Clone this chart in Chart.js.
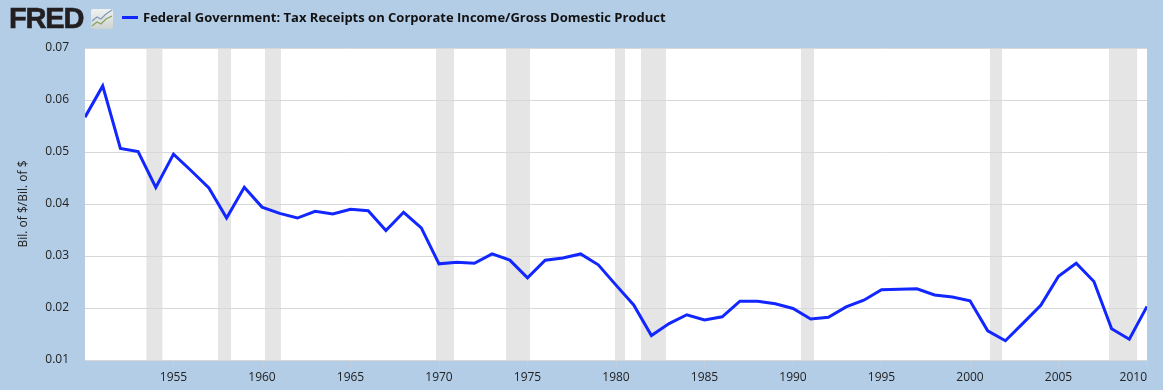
<!DOCTYPE html>
<html>
<head>
<meta charset="utf-8">
<title>FRED</title>
<script src="https://cdn.jsdelivr.net/npm/chart.js@4/dist/chart.umd.min.js"></script>
<style>
html, body { margin: 0; padding: 0; background: #b3cde6; }
#wrap { position: relative; width: 1163px; height: 390px; overflow: hidden; }
#chart { position: absolute; left: 0; top: 0; }
#logo { position: absolute; left: 9px; top: 2px; font: bold 29px "Liberation Sans", sans-serif; letter-spacing: -1.2px; color: #231f20; -webkit-text-stroke: 0.6px #231f20; }
#icon { position: absolute; left: 91px; top: 9px; }
#swatch { position: absolute; left: 122px; top: 16px; width: 16px; height: 3px; background: #1226ff; }
#legend { position: absolute; left: 143px; top: 9px; font: 700 13px "Open Sans", sans-serif; line-height: 17px; color: #111; white-space: nowrap; }
</style>
</head>
<body>
<div id="wrap">
    <canvas id="chart" width="1163" height="390"></canvas>
    <div id="logo">FRED</div>
    <svg id="icon" width="22" height="20" viewBox="0 0 22 20">
        <defs><linearGradient id="iconBg" x1="0" y1="0" x2="0" y2="1"><stop offset="0" stop-color="#f0f2f2"/><stop offset="1" stop-color="#cfd3d0"/></linearGradient></defs>
        <rect width="22" height="20" rx="2" fill="url(#iconBg)"/>
        <polyline points="1,12 6,8 10,10 15,5 21,1" fill="none" stroke="#7f9ab8" stroke-width="1.2"/>
        <polyline points="1,17 6,13 10,15 15,10 21,7" fill="none" stroke="#84a45f" stroke-width="1.2"/>
    </svg>
    <div id="swatch"></div>
    <div id="legend"></div>
</div>
<script>
const seriesName = 'Federal Government: Tax Receipts on Corporate Income/Gross Domestic Product';
const yAxisTitle = 'Bil. of $/Bil. of $';

const years = [1950, 1951, 1952, 1953, 1954, 1955, 1956, 1957, 1958, 1959,
    1960, 1961, 1962, 1963, 1964, 1965, 1966, 1967, 1968, 1969,
    1970, 1971, 1972, 1973, 1974, 1975, 1976, 1977, 1978, 1979,
    1980, 1981, 1982, 1983, 1984, 1985, 1986, 1987, 1988, 1989,
    1990, 1991, 1992, 1993, 1994, 1995, 1996, 1997, 1998, 1999,
    2000, 2001, 2002, 2003, 2004, 2005, 2006, 2007, 2008, 2009, 2010];
const receipts = [0.0567, 0.0627, 0.0507, 0.0501, 0.0432, 0.0496, 0.0464, 0.0431, 0.0373, 0.0432,
    0.0394, 0.0382, 0.0373, 0.0386, 0.0381, 0.0390, 0.0387, 0.0349, 0.0384, 0.0354,
    0.0285, 0.0288, 0.0286, 0.0304, 0.0292, 0.0258, 0.0292, 0.0296, 0.0304, 0.0283,
    0.0244, 0.0206, 0.0147, 0.0170, 0.0187, 0.0177, 0.0183, 0.0213, 0.0213, 0.0208,
    0.0199, 0.0179, 0.0182, 0.0202, 0.0215, 0.0235, 0.0236, 0.0237, 0.0225, 0.0221,
    0.0214, 0.0156, 0.0137, 0.0171, 0.0205, 0.0261, 0.0286, 0.0251, 0.0160, 0.0140, 0.0203];

const recessionStart = [1953.47, 1957.51, 1960.17, 1969.83, 1973.79, 1979.94, 1981.41, 1990.45, 2001.13, 2007.85];
const recessionEnd = [1954.37, 1958.25, 1961.07, 1970.85, 1975.14, 1980.51, 1982.82, 1991.19, 2001.81, 2009.44];

const xTicks = [1950, 1955, 1960, 1965, 1970, 1975, 1980, 1985, 1990, 1995, 2000, 2005, 2010];
const yTicks = [0.01, 0.02, 0.03, 0.04, 0.05, 0.06, 0.07];

const tickFont = { family: '"Open Sans", sans-serif', size: 12 };

document.getElementById('legend').textContent = seriesName;

// white plot area and recession bands, under the grid lines
const backdrop = {
    id: 'backdrop',
    beforeDraw(chart) {
        const { ctx, chartArea: a, scales: { x } } = chart;
        ctx.save();
        ctx.fillStyle = '#ffffff';
        ctx.fillRect(a.left, a.top, a.right - a.left, a.bottom - a.top);
        ctx.fillStyle = '#e5e5e5';
        recessionStart.forEach((s, i) => {
            const l = x.getPixelForValue(s);
            ctx.fillRect(l, a.top, x.getPixelForValue(recessionEnd[i]) - l, a.bottom - a.top);
        });
        ctx.restore();
    }
};

new Chart(document.getElementById('chart'), {
    type: 'line',
    data: {
        datasets: [{
            data: years.map((y, i) => ({ x: y, y: receipts[i] })),
            borderColor: '#1226ff',
            borderWidth: 3,
            pointRadius: 0,
            tension: 0,
            clip: 0
        }]
    },
    options: {
        responsive: false,
        animation: false,
        layout: { padding: { top: 48, right: 16, left: 16, bottom: 0 } },
        plugins: { legend: { display: false }, tooltip: { enabled: false } },
        scales: {
            x: {
                type: 'linear',
                min: 1950,
                max: 2010,
                afterBuildTicks: s => { s.ticks = xTicks.map(v => ({ value: v })); },
                afterFit: s => { s.height = 30; },
                border: { display: false },
                grid: {
                    drawOnChartArea: false,
                    tickLength: 8,
                    tickColor: c => c.tick && c.tick.value === 1950 ? 'rgba(0,0,0,0)' : '#c0d0e0'
                },
                ticks: {
                    autoSkip: false,
                    maxRotation: 0,
                    align: 'inner',
                    padding: 2,
                    color: '#222',
                    font: tickFont,
                    callback: v => v === 1950 ? '' : String(v)
                }
            },
            y: {
                min: 0.01,
                max: 0.07,
                afterBuildTicks: s => { s.ticks = yTicks.map(v => ({ value: v })); },
                afterFit: s => { s.width = 69; },
                border: { display: false },
                grid: { color: '#d8d8d8', lineWidth: 1, drawTicks: false },
                ticks: {
                    padding: 16,
                    color: '#222',
                    font: tickFont,
                    callback: v => v.toFixed(2)
                },
                title: { display: true, text: yAxisTitle, color: '#222', font: tickFont, padding: 0 }
            }
        }
    },
    plugins: [backdrop]
});
</script>
</body>
</html>
